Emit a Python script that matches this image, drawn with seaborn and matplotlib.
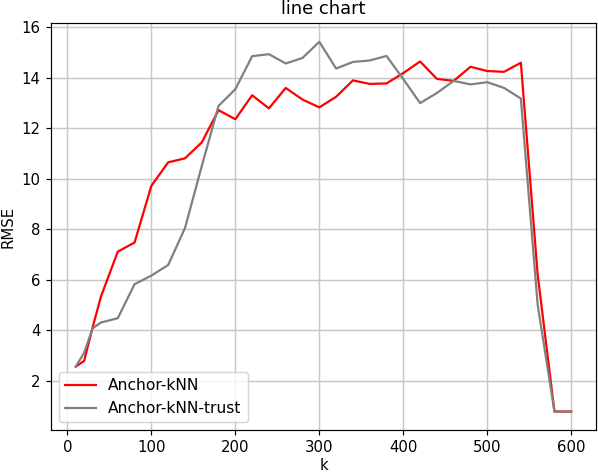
import pandas as pd
import matplotlib
matplotlib.use("Agg")
import matplotlib.pyplot as plt
import seaborn as sns

k_values = [10, 20, 30, 40, 60, 80, 100, 120, 140, 160, 180, 200, 220, 240, 260,
            280, 300, 320, 340, 360, 380, 400, 420, 440, 460, 480, 500, 520, 540,
            560, 580, 600]
rmse_anchor = [2.55, 2.78, 4.1, 5.33, 7.11, 7.47, 9.72, 10.65, 10.81, 11.44, 12.72,
               12.36, 13.31, 12.79, 13.6, 13.14, 12.83, 13.25, 13.9, 13.76, 13.78,
               14.19, 14.65, 13.96, 13.88, 14.44, 14.27, 14.24, 14.6, 6.2, 0.77, 0.77]
rmse_trust = [2.55, 3.1, 4.07, 4.3, 4.47, 5.82, 6.16, 6.58, 8.04, 10.5, 12.89,
              13.55, 14.86, 14.94, 14.57, 14.79, 15.43, 14.37, 14.63, 14.69, 14.87,
              13.95, 13.0, 13.4, 13.88, 13.74, 13.83, 13.6, 13.18, 5.0, 0.77, 0.77]

df = pd.DataFrame({
    "k": k_values * 2,
    "RMSE": rmse_anchor + rmse_trust,
    "method": ["Anchor-kNN"] * len(k_values) + ["Anchor-kNN-trust"] * len(k_values),
})

plt.rcParams["font.family"] = ["DejaVu Sans"]
dpi = 107
fig, ax = plt.subplots(figsize=(598 / dpi, 474 / dpi), dpi=dpi)
sns.lineplot(data=df, x="k", y="RMSE", hue="method",
             palette={"Anchor-kNN": "red", "Anchor-kNN-trust": "gray"},
             linewidth=1.5, ax=ax)
ax.grid(True, color="#c8c8c8", linewidth=1.0)
ax.set_axisbelow(True)
ax.set_title("line chart")
ax.set_xlabel("k", labelpad=1.5)
ax.set_ylabel("RMSE")
ax.set_xticks([0, 100, 200, 300, 400, 500, 600])
ax.set_yticks([2, 4, 6, 8, 10, 12, 14, 16])
ax.legend(title=None, loc="lower left", fontsize=10.4)
fig.subplots_adjust(left=0.0853, right=0.9967, top=0.9508, bottom=0.0928)
fig.savefig("out.png", dpi=dpi)
